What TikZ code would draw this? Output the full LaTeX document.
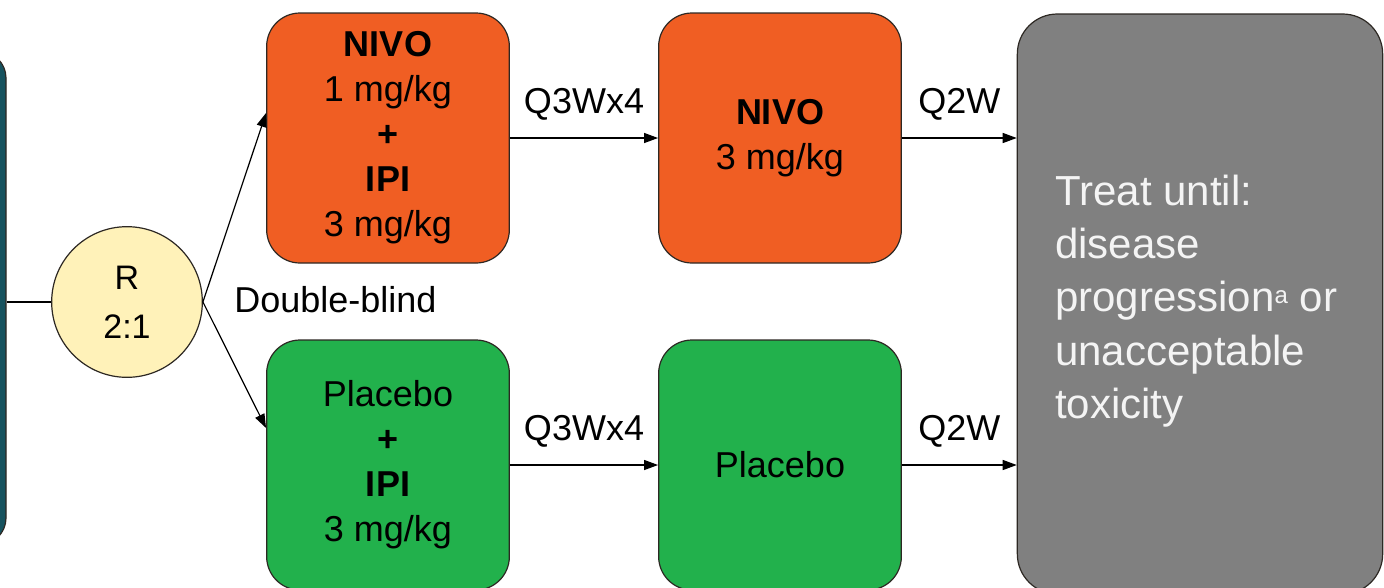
\documentclass[tikz,border=0pt]{standalone}
\usepackage{fontspec}
\setmainfont{Liberation Sans}
\usetikzlibrary{arrows.meta,calc}

\definecolor{armorange}{RGB}{240,94,35}
\definecolor{armgreen}{RGB}{34,177,76}
\definecolor{randfill}{RGB}{255,242,185}
\definecolor{treatgrey}{RGB}{128,128,128}
\definecolor{popteal}{RGB}{22,82,94}
\definecolor{edgedark}{RGB}{45,40,35}
\definecolor{paletext}{RGB}{244,244,244}

\begin{document}
\begin{tikzpicture}[x=0.75pt,y=-0.75pt,
  armbox/.style={draw=edgedark, line width=0.9pt, rounded corners=25pt,
    minimum width=182pt, minimum height=187.5pt, align=center, inner sep=0pt,
    font=\fontsize{27pt}{33.75pt}\selectfont},
  flow/.style={draw=black, line width=0.9pt, -{Triangle[length=10.5pt,width=7.5pt]}},
  flowlabel/.style={font=\fontsize{27pt}{32pt}\selectfont, inner sep=0pt, above=13pt}
]
\useasboundingbox (0,0) rectangle (1384,587);

% population box, mostly off the left edge
\node[draw=edgedark, fill=popteal, line width=0.9pt, rounded corners=20pt,
      minimum width=105pt, minimum height=370pt] (pop) at (-64,298) {};

% randomisation
\node[circle, draw=edgedark, fill=randfill, line width=0.9pt, minimum size=113pt,
      inner sep=0pt, align=center, font=\fontsize{25.5pt}{36.75pt}\selectfont] (rand) at (127,302) {R\\2:1};

% induction arms
\node[armbox, fill=armorange] (combo) at (388,138)
  {\textbf{NIVO}\\1 mg/kg\\\textbf{+}\\\textbf{IPI}\\3 mg/kg};
\node[armbox, fill=armgreen] (ctrl) at (388,465)
  {Placebo\\\textbf{+}\\\textbf{IPI}\\3 mg/kg};

% maintenance arms
\node[armbox, fill=armorange] (nivo) at (780,138) {\textbf{NIVO}\\3 mg/kg};
\node[armbox, fill=armgreen] (plac) at (780,465) {Placebo};

% treatment duration
\node[draw=edgedark, fill=treatgrey, line width=0.9pt, rounded corners=30pt,
      minimum width=274pt, minimum height=435pt] (treat) at (1200,304) {};
\node[anchor=west, align=left, text=paletext, inner sep=0pt,
      font=\fontsize{31.5pt}{40pt}\selectfont] (treattext) at (1055,301)
  {Treat until:\\disease\\progression{\fontsize{18pt}{18pt}\selectfont\raisebox{6pt}{a}} or\\unacceptable\\toxicity};

\node[anchor=west, inner sep=0pt, font=\fontsize{27pt}{32pt}\selectfont] (blind) at (234,300) {Double-blind};

% connectors
\draw[draw=black, line width=0.9pt] (rand.west -| pop.east) -- (rand.west);
\draw[flow] (rand.east) -- ($(combo.west)+(0,-25)$);
\draw[flow] (rand.east) -- ($(ctrl.west)+(0,-37)$);
\draw[flow] (combo) -- node[flowlabel] {Q3Wx4} (nivo);
\draw[flow] (ctrl) -- node[flowlabel] {Q3Wx4} (plac);
\draw[flow] (nivo.east) -- node[flowlabel] {Q2W} (nivo.east -| treat.west);
\draw[flow] (plac.east) -- node[flowlabel] {Q2W} (plac.east -| treat.west);
\end{tikzpicture}
\end{document}
